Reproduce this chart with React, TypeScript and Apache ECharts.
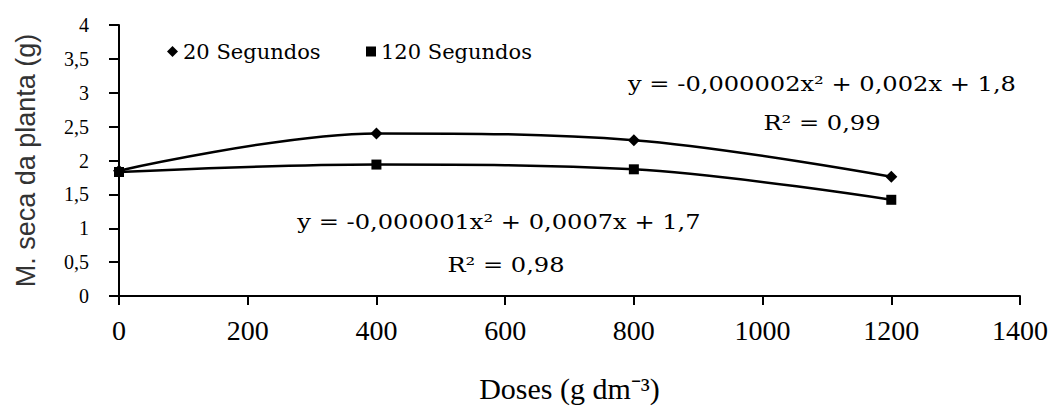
import React, { useEffect, useRef } from "react";
import * as echarts from "echarts";

const doses = [0, 400, 800, 1200];
const seg20 = [1.85, 2.4, 2.3, 1.76];
const seg120 = [1.83, 1.94, 1.87, 1.42];
const seriesNames = ["20 Segundos", "120 Segundos"];
const eq20 = "y = -0,000002x² + 0,002x + 1,8";
const r2_20 = "R² = 0,99";
const eq120 = "y = -0,000001x² + 0,0007x + 1,7";
const r2_120 = "R² = 0,98";
const xTitle = "Doses (g dm⁻³)";
const yTitle = "M. seca da planta (g)";

const SERIF = "DejaVu Serif";
const TIMES = "Liberation Serif";
const SANS = "sans-serif";

// Force the Times-like face on the axis tick labels and the x title (sizes 20, 28, 30 px)
const css = `
#root svg text[style*="20px"],
#root svg text[style*="28px"],
#root svg text[style*="30px"] { font-family: "Liberation Serif", "Times New Roman", serif !important; }
`;

function eqText(x: number, y: number, text: string) {
  return {
    type: "text",
    x,
    y,
    scaleX: 1.15,
    style: {
      text,
      fontFamily: SERIF,
      fontSize: 21,
      align: "center",
      verticalAlign: "middle",
      fill: "#000",
    },
  };
}

export default function App() {
  const ref = useRef<HTMLDivElement>(null);
  useEffect(() => {
    if (!ref.current) return;
    const chart = echarts.init(ref.current, null, { renderer: "svg" });
    const pair = (ys: number[]) => doses.map((d, i) => [d, ys[i]]);
    chart.setOption({
      animation: false,
      backgroundColor: "#fff",
      grid: { left: 119, right: 32, top: 25, bottom: 111 },
      legend: [
        {
          data: [{ name: seriesNames[0], icon: "diamond" }],
          left: 162,
          top: 36,
          itemWidth: 11,
          itemHeight: 11,
          textStyle: { fontFamily: SERIF, fontSize: 21, color: "#000" },
        },
        {
          data: [{ name: seriesNames[1], icon: "rect" }],
          left: 361,
          top: 36,
          itemWidth: 10,
          itemHeight: 10,
          textStyle: { fontFamily: SERIF, fontSize: 21, color: "#000" },
        },
      ],
      xAxis: {
        type: "value",
        min: 0,
        max: 1400,
        interval: 200,
        name: xTitle,
        nameLocation: "middle",
        nameGap: 77,
        nameTextStyle: { fontFamily: TIMES, fontSize: 30, color: "#000" },
        axisLine: { lineStyle: { color: "#000", width: 2 } },
        axisTick: { show: true, length: 9, lineStyle: { color: "#000", width: 2 } },
        axisLabel: {
          fontFamily: TIMES,
          fontSize: 28,
          color: "#000",
          margin: 20,
          formatter: (v: number) => String(v),
        },
        splitLine: { show: false },
      },
      yAxis: {
        type: "value",
        min: 0,
        max: 4,
        interval: 0.5,
        name: yTitle,
        nameLocation: "middle",
        nameGap: 80,
        nameTextStyle: { fontFamily: SANS, fontSize: 27, color: "#333" },
        axisLine: { show: true, lineStyle: { color: "#000", width: 2 } },
        axisTick: { show: true, length: 10, lineStyle: { color: "#000", width: 2 } },
        axisLabel: {
          fontFamily: TIMES,
          fontSize: 20,
          color: "#000",
          margin: 30,
          formatter: (v: number) => String(v).replace(".", ","),
        },
        splitLine: { show: false },
      },
      series: [
        {
          name: seriesNames[0],
          type: "line",
          smooth: 0.35,
          data: pair(seg20),
          symbol: "diamond",
          symbolSize: 12,
          showAllSymbol: true,
          itemStyle: { color: "#000" },
          lineStyle: { color: "#000", width: 2.5 },
          z: 3,
        },
        {
          name: seriesNames[1],
          type: "line",
          smooth: 0.35,
          data: pair(seg120),
          symbol: "rect",
          symbolSize: 10,
          showAllSymbol: true,
          itemStyle: { color: "#000" },
          lineStyle: { color: "#000", width: 2.5 },
          z: 4,
        },
      ],
      graphic: [
        eqText(822, 84, eq20),
        eqText(822, 123, r2_20),
        eqText(499, 222, eq120),
        eqText(506, 265, r2_120),
      ],
    });
    return () => chart.dispose();
  }, []);
  return (
    <>
      <style>{css}</style>
      <div
        ref={ref}
        style={{ position: "fixed", left: 0, top: 0, width: 1052, height: 408, background: "#fff" }}
      />
    </>
  );
}
